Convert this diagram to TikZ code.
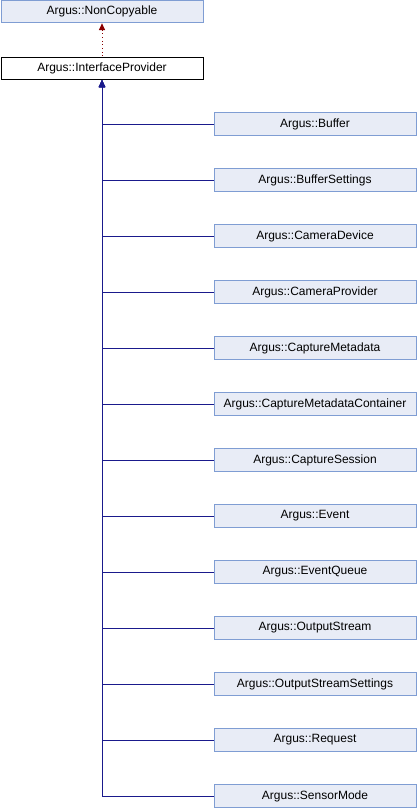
\documentclass[tikz,border=0pt]{standalone}
\usepackage{fontspec}
\setmainfont{Liberation Sans}
\usepackage{xcolor}
\usetikzlibrary{arrows.meta}
\definecolor{boxfill}{HTML}{E8ECF6}
\definecolor{boxline}{HTML}{7F9DD3}
\definecolor{inhblue}{HTML}{1A1A8C}
\definecolor{inhred}{HTML}{8B0000}

\begin{document}
\begin{tikzpicture}[
  x=0.75pt, y=-0.75pt,  cls/.style={rectangle,draw=boxline,fill=boxfill,line width=0.75pt,minimum width=151.5pt,minimum height=17pt,inner sep=0pt,font=\fontsize{9pt}{11pt}\selectfont},  pcls/.style={cls,draw=black,fill=white},  inh/.style={draw=inhblue,line width=0.75pt,{Triangle[length=5pt,width=4.5pt]}-},  uses/.style={draw=inhred,line width=0.75pt,dotted,{Triangle[length=5pt,width=4.5pt]}-}
]
  \useasboundingbox (0,0) rectangle (418,808);
  \node[cls] (nc) at (102,11.5) {Argus::NonCopyable};
  \node[pcls] (ip) at (102,68.5) {Argus::InterfaceProvider};
  \node[cls] (c0) at (315,124) {Argus::Buffer};
  \node[cls] (c1) at (315,180) {Argus::BufferSettings};
  \node[cls] (c2) at (315,236) {Argus::CameraDevice};
  \node[cls] (c3) at (315,292) {Argus::CameraProvider};
  \node[cls] (c4) at (315,348) {Argus::CaptureMetadata};
  \node[cls] (c5) at (315,404) {Argus::CaptureMetadataContainer};
  \node[cls] (c6) at (315,460) {Argus::CaptureSession};
  \node[cls] (c7) at (315,516) {Argus::Event};
  \node[cls] (c8) at (315,572) {Argus::EventQueue};
  \node[cls] (c9) at (315,628) {Argus::OutputStream};
  \node[cls] (c10) at (315,684) {Argus::OutputStreamSettings};
  \node[cls] (c11) at (315,740) {Argus::Request};
  \node[cls] (c12) at (315,796) {Argus::SensorMode};
  \draw[uses] (nc) -- (ip);
  \draw[inh] (ip) |- (c0);
  \draw[inh] (ip) |- (c1);
  \draw[inh] (ip) |- (c2);
  \draw[inh] (ip) |- (c3);
  \draw[inh] (ip) |- (c4);
  \draw[inh] (ip) |- (c5);
  \draw[inh] (ip) |- (c6);
  \draw[inh] (ip) |- (c7);
  \draw[inh] (ip) |- (c8);
  \draw[inh] (ip) |- (c9);
  \draw[inh] (ip) |- (c10);
  \draw[inh] (ip) |- (c11);
  \draw[inh] (ip) |- (c12);
\end{tikzpicture}
\end{document}
